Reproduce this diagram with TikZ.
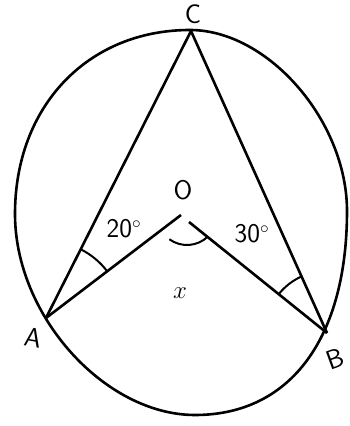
\documentclass[tikz,border=0pt]{standalone}
\usetikzlibrary{angles}
\begin{document}
\begin{tikzpicture}[x=1pt, y=1pt, line width=2.6pt, line join=round,
  every node/.style={font=\sffamily\fontsize{27}{31}\selectfont, inner sep=0pt},
  markarc/.style={draw, line width=2pt}]
\useasboundingbox (0,0) rectangle (349,426);
% points on the circle and the centre
\coordinate (C) at (191,395);
\coordinate (A) at (46,108);
\coordinate (B) at (327,93);
\coordinate (O) at (187,211);
\coordinate (Oa) at (181,211);
\coordinate (Ob) at (189,204);
% the circle, as drawn by hand
\draw (190,396) .. controls (268,396) and (347,305) .. (347,215)
  .. controls (347,90) and (292,11) .. (195,11)
  .. controls (105,11) and (15,110) .. (15,212)
  .. controls (15,320) and (88,396) .. cycle;
% chords and radii
\draw (A) -- (C) -- (B);
\draw (A) -- (Oa);
\draw (Ob) -- (B);
% angle marks
\pic[markarc, angle radius=77pt] {angle=Oa--A--C};
\pic[markarc, angle radius=62pt] {angle=C--B--Ob};
\draw[line width=2pt] ([shift={(234:30)}]O) arc[start angle=234, end angle=314, radius=30pt];
% labels
\node (lC) at (193,412) {C};
\node (lO) at (183,236) {O};
\node[rotate=-10] (lA) at (33,88) {A};
\node[rotate=20] (lB) at (335,67) {B};
\node (la) at (124,197) {20$^{\circ}$};
\node (lb) at (252,192) {30$^{\circ}$};
\node[font=\fontsize{30}{34}\selectfont] (lx) at (180,133) {$x$};
\end{tikzpicture}
\end{document}
